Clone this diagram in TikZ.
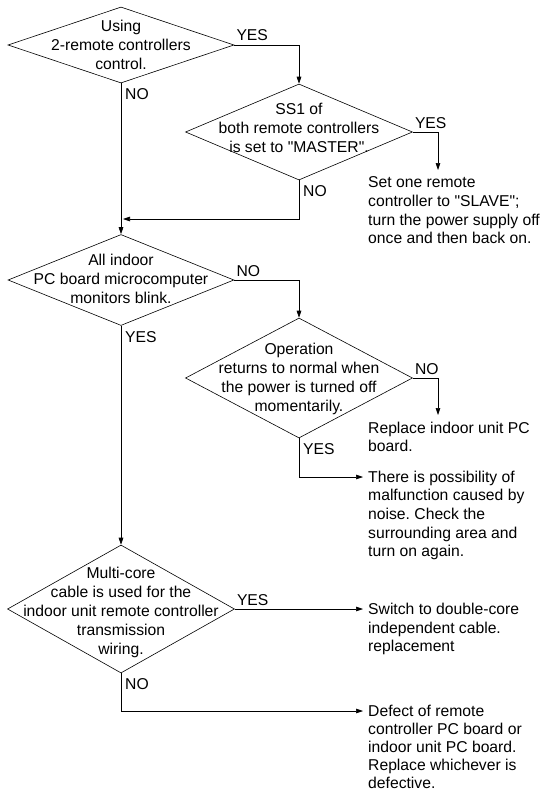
\documentclass[tikz,border=0pt]{standalone}
\usepackage{fontspec}
\setmainfont{Liberation Sans}
\usetikzlibrary{arrows.meta,shapes.geometric,positioning}
\frenchspacing

\begin{document}
\begin{tikzpicture}[x=1pt,y=1pt,
  decision/.style={draw,shape=diamond,inner sep=0pt,line width=0.6pt},
  dtext/.style={align=center,inner sep=0pt,font=\fontsize{15.7}{19}\selectfont},
  note/.style={align=left,anchor=north west,inner sep=0pt,font=\fontsize{15.7}{18.7}\selectfont},
  lbl/.style={anchor=base west,inner sep=0pt,font=\fontsize{15.7}{19}\selectfont},
  arr/.style={draw,line width=0.6pt,-{Triangle[length=7pt,width=4.6pt]}}]
  \useasboundingbox (0,0) rectangle (546,-792);

  \foreach \n/\x/\y/\w/\h in
    {d1/121/-45/226/76, d2/299/-132/227/96, d3/121/-280/226/91,
     d4/299/-378/227/120, d5/121/-609/227/128}
  {
    \node[decision,minimum width=\w pt,minimum height=\h pt] (\n) at (\x,\y) {};
  }

  \node[dtext] (t1) at (121,-45) {Using\\2-remote controllers\\control.};
  \node[dtext] (t2) at (299,-128) {SS1 of\\both remote controllers\\is set to \textquotedbl MASTER\textquotedbl.};
  \node[dtext] (t3) at (121,-279) {All indoor\\PC board microcomputer\\monitors blink.};
  \node[dtext] (t4) at (299,-378.5) {Operation\\returns to normal when\\the power is turned off\\momentarily.};
  \node[dtext] (t5) at (121,-612) {Multi-core\\cable is used for the\\indoor unit remote controller\\transmission\\wiring.};

  \node[note] (n1) at (368,-176.5) {Set one remote\\controller to \textquotedbl SLAVE\textquotedbl;\\turn the power supply off\\once and then back on.};
  \node[note] (n2) at (368,-421.5) {Replace indoor unit PC\\board.};
  \node[note] (n3) at (368,-470.5) {There is possibility of\\malfunction caused by\\noise. Check the\\surrounding area and\\turn on again.};
  \node[note] (n4) at (368,-603) {Switch to double-core\\independent cable.\\replacement};
  \node[note,font=\fontsize{15.7}{18}\selectfont] (n5) at (368,-704.5) {Defect of remote\\controller PC board or\\indoor unit PC board.\\Replace whichever is\\defective.};

  \node[lbl] (l1y) at ([shift={(2,4)}]d1.east) {YES};
  \node[lbl] (l1n) at ([shift={(4,-16.5)}]d1.south) {NO};
  \node[lbl] (l2y) at ([shift={(2,4)}]d2.east) {YES};
  \node[lbl] (l2n) at ([shift={(4,-16.5)}]d2.south) {NO};
  \node[lbl] (l3n) at ([shift={(2,4)}]d3.east) {NO};
  \node[lbl] (l3y) at ([shift={(4,-16.5)}]d3.south) {YES};
  \node[lbl] (l4n) at ([shift={(2,4)}]d4.east) {NO};
  \node[lbl] (l4y) at ([shift={(4,-16.5)}]d4.south) {YES};
  \node[lbl] (l5y) at ([shift={(2,4)}]d5.east) {YES};
  \node[lbl] (l5n) at ([shift={(4,-16.5)}]d5.south) {NO};

  \coordinate (j1) at (123,-219);

  \draw[arr] (d1.east) -| (d2.north);
  \draw[arr] (d2.east) -| ([xshift=70pt,yshift=6.5pt]n1.north west);
  \draw[arr] (d2.south) |- (j1);
  \draw[arr] (d1.south) -- (d3.north);
  \draw[arr] (d3.east) -| (d4.north);
  \draw[arr] (d4.east) -| ([xshift=70pt,yshift=6.5pt]n2.north west);
  \draw[arr] (d4.south) |- ([xshift=-5pt,yshift=-6.5pt]n3.north west);
  \draw[arr] (d3.south) -- (d5.north);
  \draw[arr] (d5.east) -- ([xshift=-5pt]d5.east -| n4.west);
  \draw[arr] (d5.south) |- ([xshift=-5pt,yshift=-6.5pt]n5.north west);
\end{tikzpicture}
\end{document}
